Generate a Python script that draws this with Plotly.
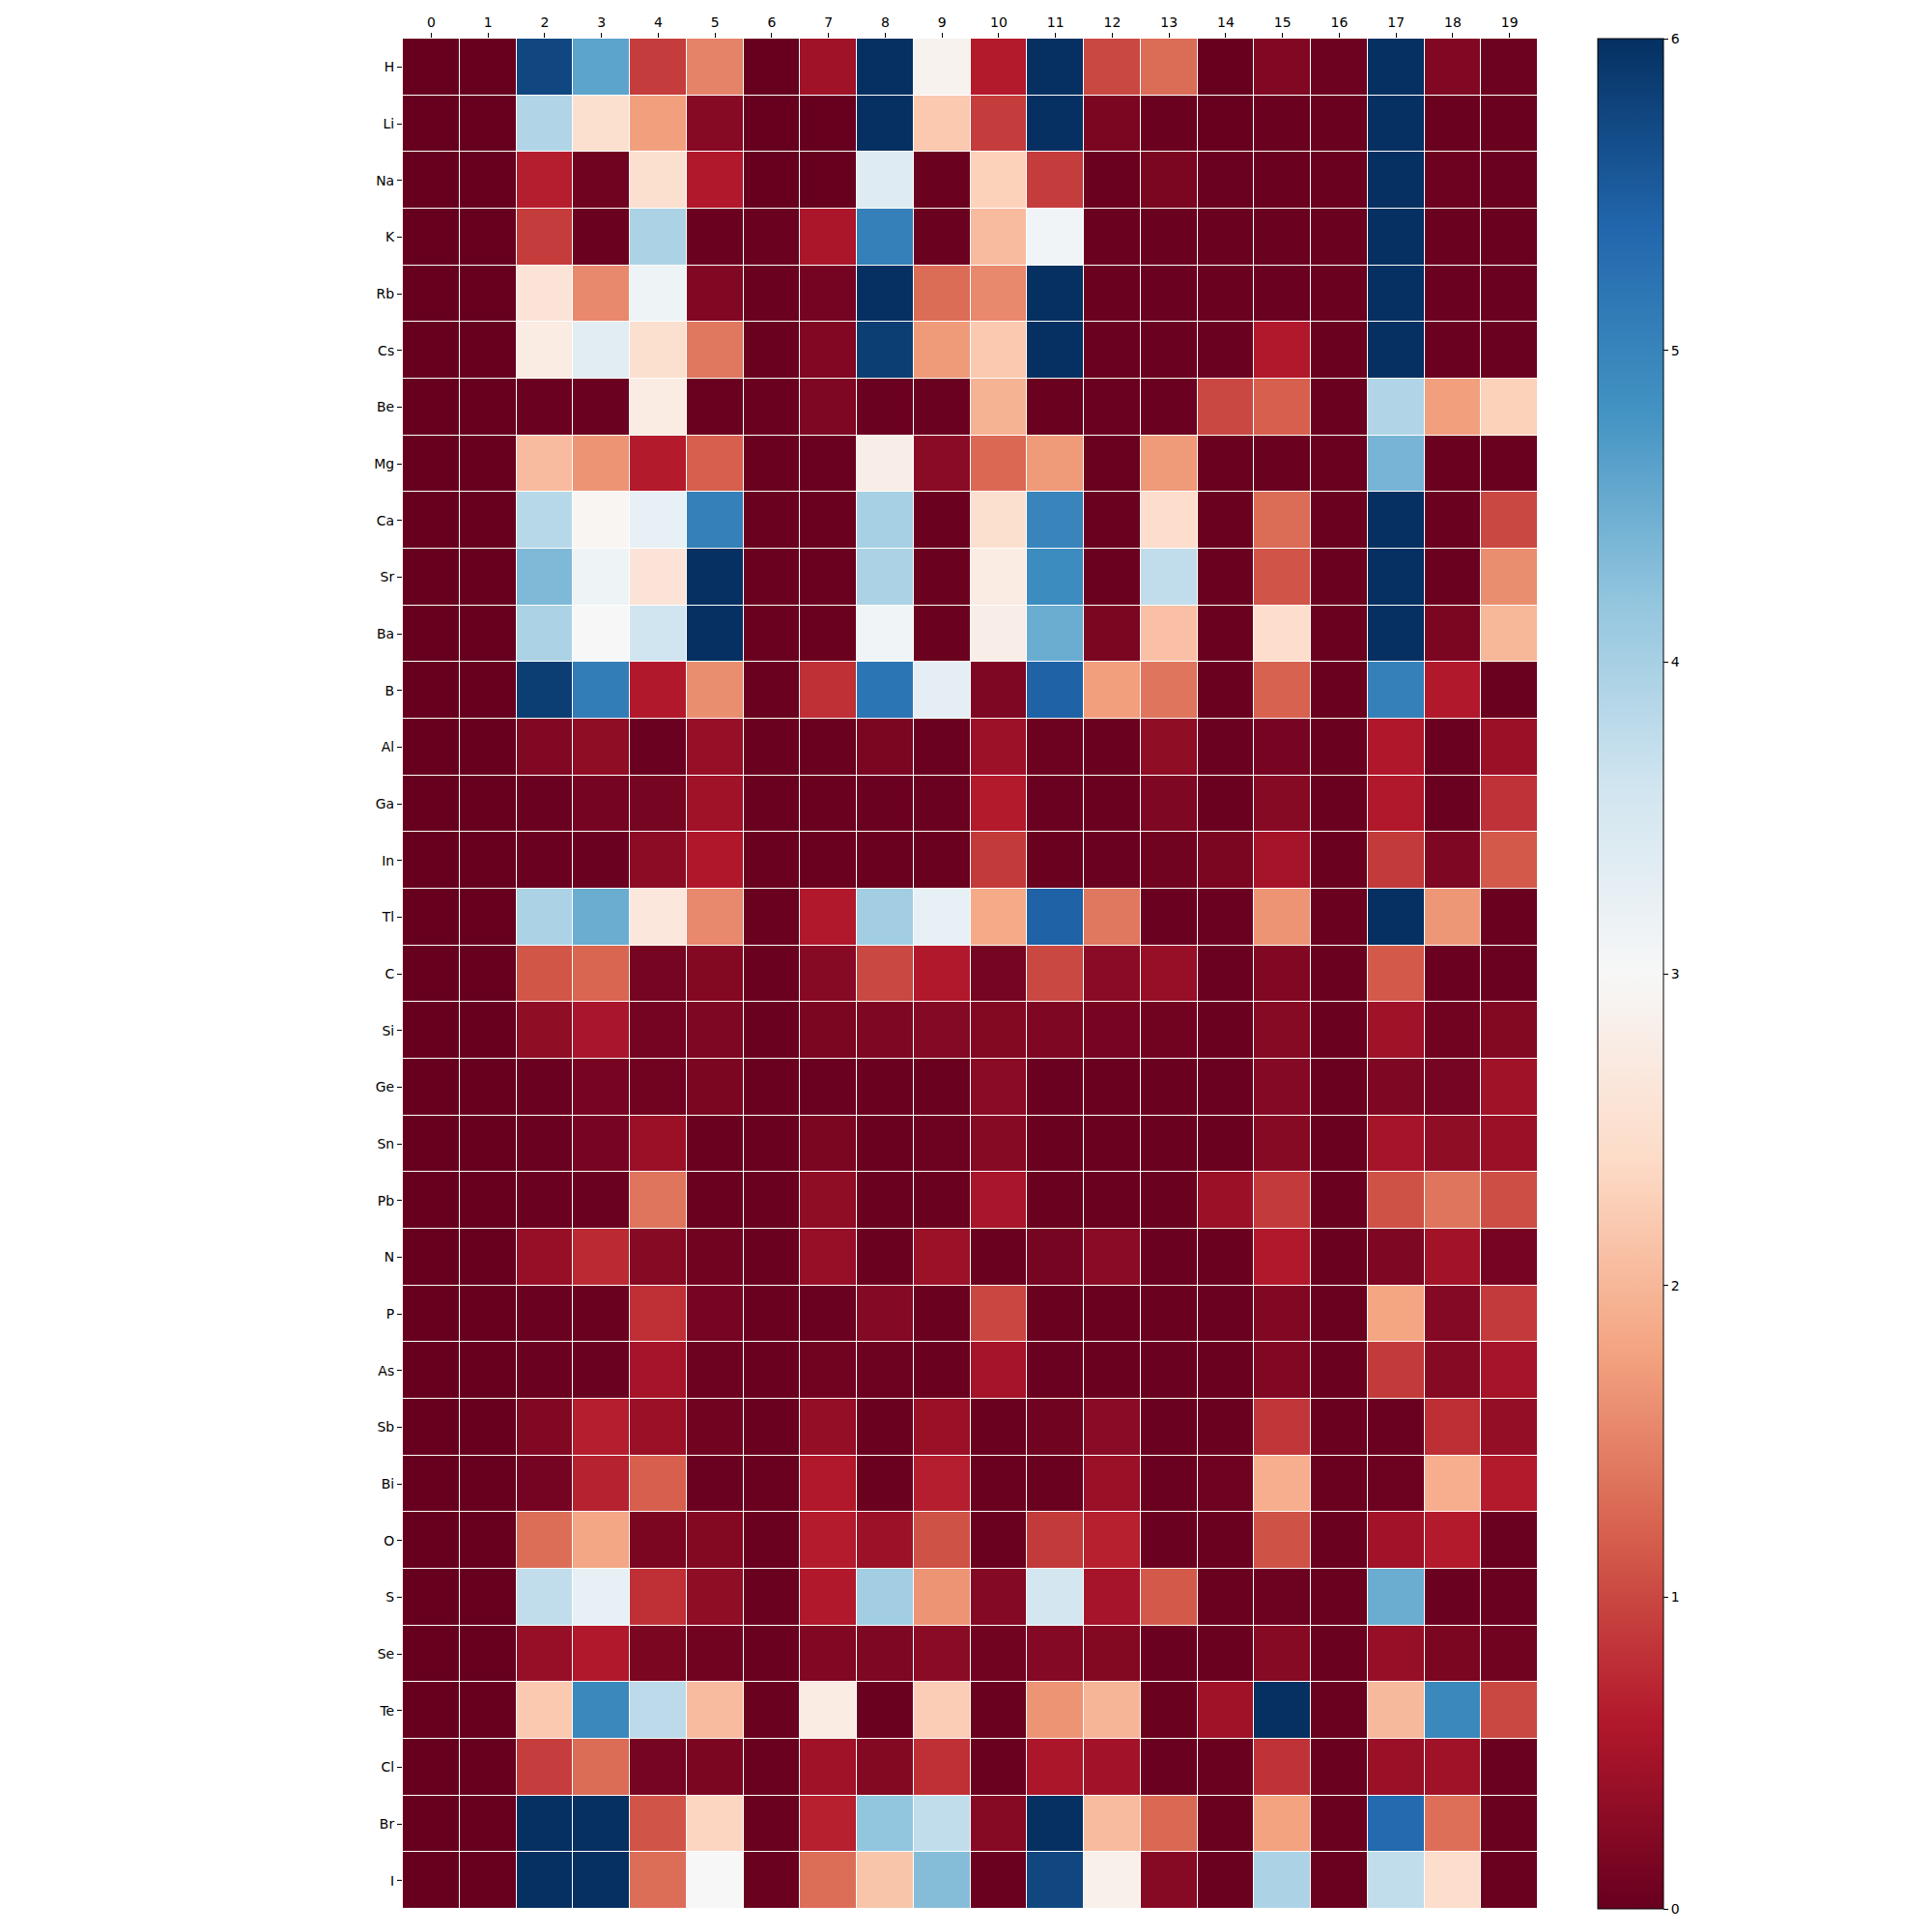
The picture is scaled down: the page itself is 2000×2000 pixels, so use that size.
import plotly.graph_objects as go

elements = ["H", "Li", "Na", "K", "Rb", "Cs", "Be", "Mg", "Ca", "Sr", "Ba", "B", "Al", "Ga", "In", "Tl",
            "C", "Si", "Ge", "Sn", "Pb", "N", "P", "As", "Sb", "Bi", "O", "S", "Se", "Te", "Cl", "Br", "I"]
columns = list(range(20))

H  = [0, 0, 5.75, 4.6, 0.9, 1.5, 0, 0.45, 6, 2.9, 0.62, 6, 1.0, 1.3, 0, 0.2, 0.05, 6, 0.2, 0.05]
Li = [0, 0, 3.9, 2.5, 1.75, 0.25, 0, 0, 6, 2.2, 0.9, 6, 0.15, 0.02, 0, 0.02, 0.02, 6, 0.02, 0.02]
Na = [0, 0, 0.65, 0.07, 2.5, 0.6, 0, 0, 3.4, 0.02, 2.3, 0.9, 0.02, 0.15, 0.03, 0.02, 0.02, 6, 0.05, 0.03]
K  = [0, 0, 0.9, 0.02, 3.95, 0.02, 0.02, 0.55, 5.05, 0.02, 2.05, 3.1, 0.02, 0.02, 0.02, 0.02, 0.02, 6, 0.02, 0.02]
Rb = [0, 0, 2.6, 1.55, 3.15, 0.2, 0.02, 0.1, 6, 1.3, 1.55, 6, 0.02, 0.03, 0.02, 0.03, 0.02, 6, 0.03, 0.03]
Cs = [0, 0, 2.75, 3.35, 2.5, 1.4, 0.02, 0.2, 5.85, 1.7, 2.2, 6, 0.03, 0.03, 0.03, 0.6, 0.02, 6, 0.03, 0.03]
Be = [0, 0, 0.03, 0.03, 2.75, 0.02, 0.02, 0.18, 0.03, 0.03, 1.95, 0.02, 0.03, 0.03, 1.0, 1.2, 0.02, 3.9, 1.75, 2.3]
Mg = [0, 0, 2.05, 1.65, 0.62, 1.2, 0.02, 0.03, 2.8, 0.28, 1.28, 1.7, 0.02, 1.7, 0.02, 0.02, 0.02, 4.4, 0.02, 0.02]
Ca = [0, 0, 3.85, 2.95, 3.25, 5.05, 0.02, 0.02, 4.0, 0.02, 2.5, 5.0, 0.02, 2.45, 0.02, 1.3, 0.02, 6, 0.02, 1.0]
Sr = [0, 0, 4.35, 3.15, 2.6, 6, 0.02, 0.02, 3.95, 0.02, 2.75, 4.9, 0.02, 3.75, 0.02, 1.1, 0.02, 6, 0.02, 1.6]
Ba = [0, 0, 3.95, 3.0, 3.6, 6, 0.02, 0.02, 3.1, 0.02, 2.8, 4.5, 0.15, 2.1, 0.02, 2.45, 0.02, 6, 0.15, 2.0]
B  = [0, 0, 5.85, 5.1, 0.6, 1.6, 0.02, 0.8, 5.2, 3.3, 0.18, 5.45, 1.75, 1.38, 0.02, 1.22, 0.02, 5.05, 0.6, 0.02]
Al = [0, 0, 0.2, 0.33, 0.03, 0.38, 0.02, 0.02, 0.15, 0.03, 0.43, 0.05, 0.02, 0.33, 0.03, 0.13, 0.02, 0.58, 0.03, 0.4]
Ga = [0, 0, 0.03, 0.1, 0.12, 0.45, 0.02, 0.02, 0.03, 0.03, 0.62, 0.03, 0.02, 0.18, 0.02, 0.25, 0.02, 0.6, 0.03, 0.82]
In = [0, 0, 0.03, 0.03, 0.3, 0.58, 0.02, 0.02, 0.02, 0.02, 0.88, 0.02, 0.03, 0.07, 0.16, 0.5, 0.02, 0.88, 0.18, 1.15]
Tl = [0, 0, 3.95, 4.5, 2.65, 1.55, 0.02, 0.6, 4.05, 3.25, 1.85, 5.45, 1.4, 0.03, 0.03, 1.65, 0.02, 6, 1.68, 0.02]
C  = [0, 0, 1.12, 1.25, 0.12, 0.22, 0.02, 0.25, 1.0, 0.6, 0.12, 1.0, 0.28, 0.38, 0.03, 0.2, 0.02, 1.15, 0.03, 0.03]
Si = [0, 0, 0.32, 0.53, 0.1, 0.18, 0.02, 0.15, 0.18, 0.23, 0.22, 0.18, 0.13, 0.08, 0.02, 0.25, 0.02, 0.45, 0.08, 0.22]
Ge = [0, 0, 0.03, 0.13, 0.08, 0.15, 0.02, 0.03, 0.02, 0.02, 0.28, 0.03, 0.02, 0.02, 0.03, 0.23, 0.02, 0.18, 0.12, 0.45]
Sn = [0, 0, 0.03, 0.13, 0.4, 0.02, 0.02, 0.15, 0.02, 0.05, 0.25, 0.02, 0.02, 0.02, 0.02, 0.25, 0.02, 0.5, 0.33, 0.4]
Pb = [0, 0, 0.03, 0.03, 1.38, 0.02, 0.02, 0.33, 0.02, 0.02, 0.53, 0.02, 0.02, 0.02, 0.4, 0.88, 0.02, 1.08, 1.38, 1.05]
N  = [0, 0, 0.38, 0.75, 0.25, 0.08, 0.02, 0.38, 0.02, 0.42, 0.02, 0.12, 0.28, 0.03, 0.02, 0.6, 0.02, 0.18, 0.47, 0.13]
P  = [0, 0, 0.03, 0.02, 0.8, 0.13, 0.02, 0.03, 0.23, 0.02, 0.98, 0.02, 0.02, 0.02, 0.03, 0.2, 0.02, 1.8, 0.23, 0.88]
As = [0, 0, 0.03, 0.03, 0.5, 0.05, 0.02, 0.08, 0.05, 0.02, 0.5, 0.03, 0.02, 0.03, 0.02, 0.2, 0.02, 0.88, 0.25, 0.5]
Sb = [0, 0, 0.2, 0.65, 0.4, 0.08, 0.02, 0.36, 0.02, 0.4, 0.02, 0.07, 0.28, 0.03, 0.02, 0.85, 0.02, 0.03, 0.78, 0.36]
Bi = [0, 0, 0.1, 0.68, 1.2, 0.03, 0.02, 0.6, 0.02, 0.65, 0.02, 0.02, 0.4, 0.03, 0.06, 1.9, 0.02, 0.05, 1.9, 0.62]
O  = [0, 0, 1.32, 1.82, 0.15, 0.22, 0.02, 0.63, 0.42, 1.08, 0.02, 0.88, 0.67, 0.03, 0.02, 1.08, 0.02, 0.47, 0.62, 0.03]
S  = [0, 0, 3.75, 3.25, 0.8, 0.33, 0.02, 0.6, 4.05, 1.65, 0.23, 3.55, 0.5, 1.15, 0.02, 0.05, 0.02, 4.5, 0.03, 0.03]
Se = [0, 0, 0.38, 0.6, 0.15, 0.08, 0.02, 0.2, 0.18, 0.28, 0.08, 0.23, 0.22, 0.03, 0.02, 0.25, 0.02, 0.38, 0.15, 0.08]
Te = [0, 0, 2.2, 4.95, 3.8, 2.05, 0.02, 2.75, 0.02, 2.25, 0.02, 1.65, 1.98, 0.02, 0.45, 6, 0.02, 2.02, 4.95, 1.0]
Cl = [0, 0, 0.92, 1.3, 0.12, 0.15, 0.02, 0.45, 0.22, 0.8, 0.02, 0.55, 0.47, 0.03, 0.02, 0.82, 0.02, 0.4, 0.45, 0.03]
Br = [0, 0, 6, 6, 1.1, 2.35, 0.02, 0.67, 4.2, 3.75, 0.25, 6, 2.05, 1.28, 0.02, 1.78, 0.02, 5.35, 1.33, 0.02]
I  = [0, 0, 6, 6, 1.32, 3.0, 0.02, 1.32, 2.15, 4.3, 0.02, 5.75, 2.85, 0.25, 0.02, 3.95, 0.02, 3.75, 2.45, 0.02]

z = [H, Li, Na, K, Rb, Cs, Be, Mg, Ca, Sr, Ba, B, Al, Ga, In, Tl,
     C, Si, Ge, Sn, Pb, N, P, As, Sb, Bi, O, S, Se, Te, Cl, Br, I]

rdbu = ["#67001f", "#b2182b", "#d6604d", "#f4a582", "#fddbc7", "#f7f7f7",
        "#d1e5f0", "#92c5de", "#4393c3", "#2166ac", "#053061"]
colorscale = [[i / 10, c] for i, c in enumerate(rdbu)]

fig = go.Figure(go.Heatmap(
    z=z, x=columns, y=elements,
    colorscale=colorscale, zmin=0, zmax=6,
    xgap=1, ygap=1,
    colorbar=dict(
        x=1.0527, xanchor="left", xref="paper", xpad=0,
        y=0.5, yanchor="middle", len=1.0, lenmode="fraction", ypad=0,
        thickness=68, outlinewidth=1, outlinecolor="black",
        tickmode="array", tickvals=[0, 1, 2, 3, 4, 5, 6],
        ticks="outside", ticklen=5, tickcolor="black",
        tickfont=dict(family="DejaVu Sans", size=14, color="black"),
    ),
))

fig.update_layout(
    width=2000, height=2000,
    margin=dict(l=409, r=416, t=32, b=32, autoexpand=False),
    plot_bgcolor="white", paper_bgcolor="white",
    font=dict(family="DejaVu Sans", size=14, color="black"),
    xaxis=dict(side="top", tickmode="array", tickvals=columns, ticktext=[str(c) for c in columns],
               ticks="outside", ticklen=5, tickcolor="black", showgrid=False, zeroline=False,
               showline=False, range=[-0.5, 19.5], automargin=False),
    yaxis=dict(autorange="reversed", ticks="outside", ticklen=5, tickcolor="black",
               showgrid=False, zeroline=False, showline=False, automargin=False),
)

fig.write_html("out.html")
